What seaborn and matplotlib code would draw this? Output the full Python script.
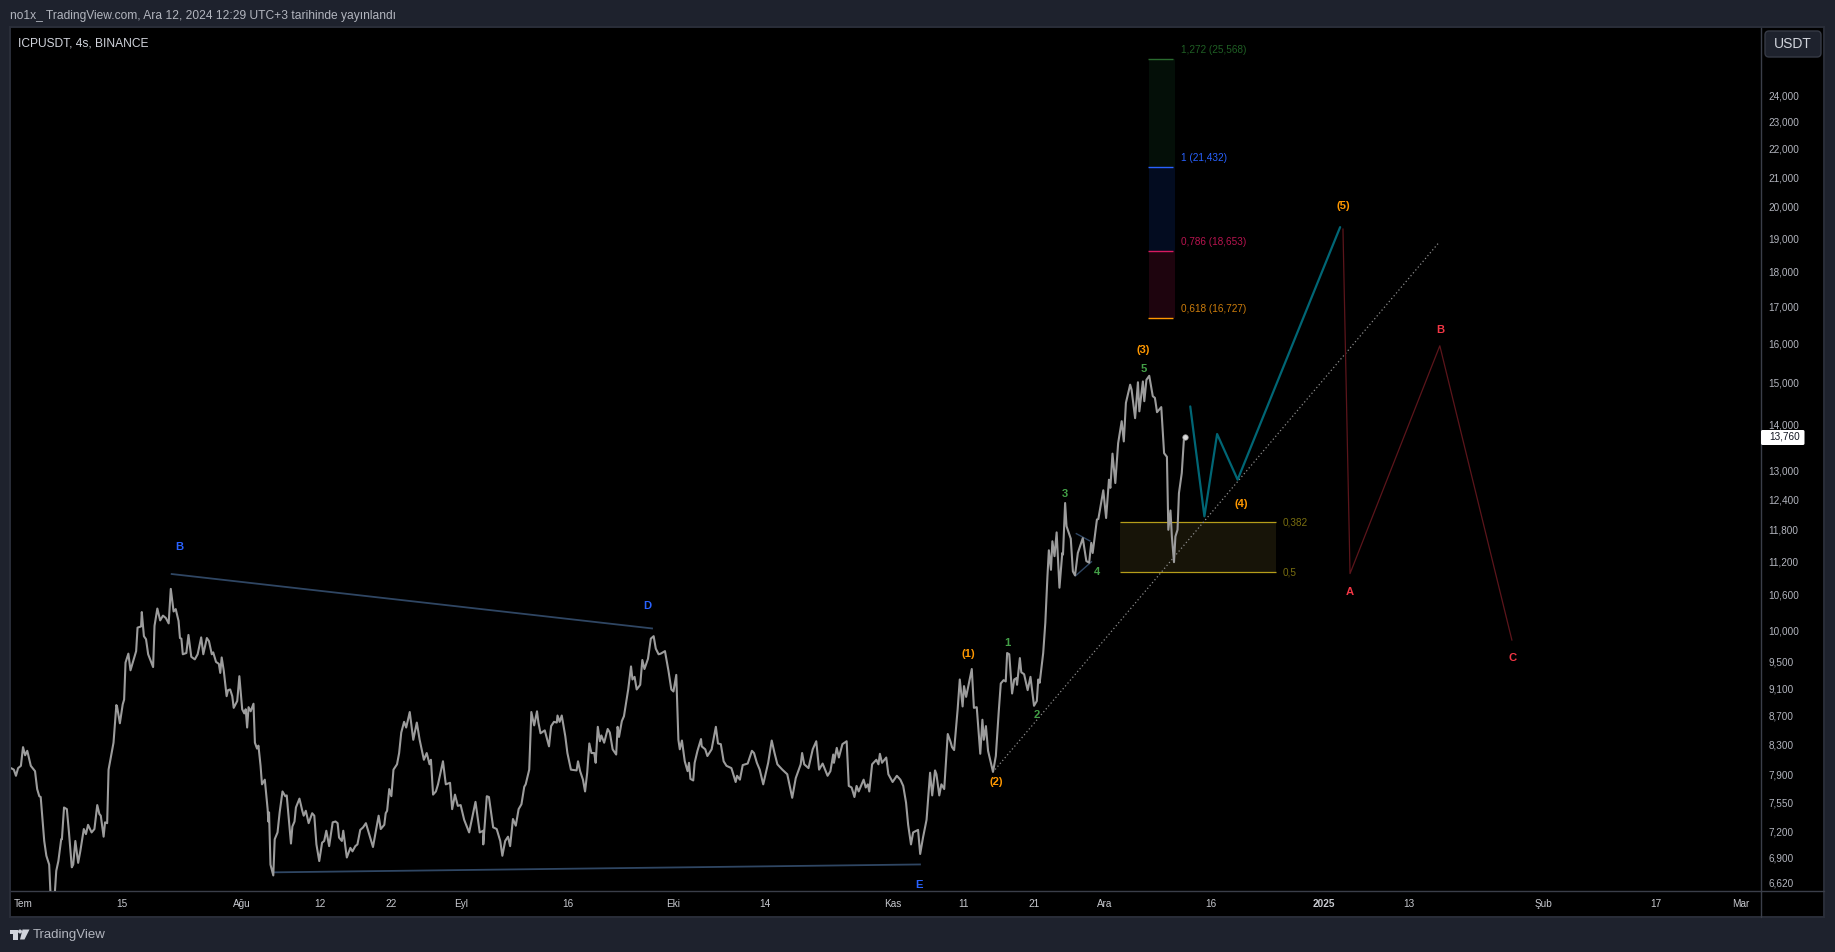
import matplotlib
matplotlib.use("Agg")
import matplotlib.pyplot as plt
from matplotlib.patches import FancyBboxPatch, Polygon, Rectangle, Circle
from matplotlib.transforms import IdentityTransform, ScaledTranslation
import pandas as pd
import seaborn as sns

# ICPUSDT 4h closes: days since 1 July 2024, price in thousands as the chart's scale shows it
days = [
    -1.7,-1.3,-1.0,-0.7,-0.3,0.0,0.3,0.6,1.1,1.7,2.0,2.3,2.5,3.0,3.3,3.7,3.9,4.1,4.5,4.7,5.0,5.4,5.5,5.8,6.2,6.5,6.9,7.1,7.4,7.8,
    8.1,8.6,8.9,9.2,9.7,10.1,10.5,10.8,11.0,11.4,11.6,11.9,12.1,12.8,13.2,13.3,13.7,14.1,14.3,14.5,14.9,15.2,16.0,16.2,16.7,16.8,17.1,17.4,17.7,18.4,
    18.6,19.0,19.4,19.8,20.2,20.6,20.9,21.3,21.6,22.0,22.2,22.4,22.6,23.1,23.4,23.8,24.3,24.7,25.2,25.5,26.0,26.3,26.7,26.9,27.3,27.7,27.9,28.1,28.4,28.8,
    29.0,29.3,29.6,29.8,30.3,30.6,31.0,31.3,31.5,31.7,31.9,32.2,32.6,32.8,33.1,33.3,33.6,33.8,34.2,34.6,34.7,34.8,35.0,35.4,35.6,36.0,36.3,36.7,37.1,37.3,
    37.9,38.1,38.4,38.6,39.1,39.5,39.7,40.0,40.4,40.9,41.2,41.5,41.9,42.3,42.6,42.9,43.3,43.8,44.2,44.5,44.7,45.1,45.3,45.8,46.3,46.6,47.0,47.3,47.7,48.1,
    48.5,49.5,50.3,50.6,51.1,51.3,51.5,51.8,52.1,52.4,52.9,53.2,53.5,53.9,54.2,54.7,55.2,55.7,56.1,56.7,57.1,57.5,57.7,58.0,58.4,58.7,59.4,59.8,60.4,60.7,
    61.1,61.5,61.9,62.4,63.1,64.0,64.6,65.1,65.1,65.6,65.9,66.5,67.0,67.5,67.8,68.2,68.6,68.9,69.3,69.7,70.1,70.5,70.9,71.1,71.6,71.9,72.3,72.7,72.9,73.2,
    73.8,74.4,74.7,75.1,75.5,75.6,75.9,76.2,76.7,77.0,77.5,78.3,78.5,78.8,79.2,79.5,79.8,80.1,80.4,80.8,81.0,81.3,81.6,81.8,82.2,82.7,83.0,83.4,83.9,84.1,
    84.3,84.7,85.0,85.6,86.0,86.2,86.5,86.8,87.3,87.6,87.9,88.4,88.8,89.2,89.5,89.9,90.2,90.8,91.3,91.7,92.0,92.4,92.7,92.9,93.2,93.6,94.0,94.2,94.4,94.8,
    95.0,95.4,95.9,96.0,96.5,96.8,97.4,98.0,98.3,98.7,99.1,99.5,100.2,100.8,101.0,101.4,101.8,102.5,103.1,103.4,103.8,104.2,104.7,105.4,105.9,106.3,106.7,107.4,108.1,108.8,
    109.3,110.0,110.2,110.5,111.1,111.7,112.2,112.6,113.1,113.8,114.2,114.6,114.7,115.1,115.4,115.9,116.5,116.8,117.2,117.6,117.9,118.2,118.9,119.2,119.5,119.7,120.1,120.7,121.0,121.2,
    121.5,122.1,122.4,123.0,123.6,124.1,124.5,124.9,125.2,125.6,125.9,126.6,126.9,127.3,127.8,128.3,128.6,129.0,129.2,129.6,129.9,130.3,130.8,131.2,131.4,131.7,132.2,132.5,132.9,133.1,
    133.4,134.2,134.5,134.9,135.4,135.7,135.9,136.2,136.5,137.2,137.6,138.0,138.3,138.7,139.0,139.2,139.5,139.9,140.2,140.5,140.6,141.0,141.2,141.6,142.1,142.5,143.0,143.4,143.6,143.8,
    144.3,144.6,144.9,145.1,145.4,145.6,145.9,146.2,146.6,147.0,147.1,147.4,147.6,148.2,148.5,148.8,149.2,149.9,150.4,150.8,151.1,151.3,151.9,152.1,152.8,153.2,153.6,153.8,154.1,154.5,
    154.9,155.4,155.7,156.0,156.6,156.8,157.3,157.7,157.9,158.4,158.6,158.9,159.3,159.8,160.1,160.4,161.0,161.4,161.8,162.0,162.3,162.5,162.8,163.0,163.3,163.5,163.9,164.2,164.4,
]
closes = [
    8.01,7.99,7.91,8.01,8.04,8.29,8.18,8.24,8.04,7.97,7.74,7.65,7.64,7.11,6.94,6.84,6.50,6.39,6.53,6.77,6.88,7.13,7.13,7.51,7.49,7.21,6.81,6.84,7.11,6.86,
    6.99,7.25,7.19,7.30,7.21,7.25,7.54,7.43,7.41,7.16,7.33,7.32,7.99,8.35,8.88,8.86,8.62,8.89,8.96,9.52,9.66,9.40,9.70,10.08,10.10,10.34,9.94,9.89,9.65,9.45,
    10.11,10.40,10.20,10.28,10.24,10.15,10.74,10.35,10.39,10.19,9.91,9.90,9.65,9.67,9.96,9.61,9.57,9.65,9.92,9.65,9.91,9.86,9.65,9.68,9.53,9.50,9.36,9.60,9.39,9.01,
    9.10,9.11,9.01,8.84,8.94,9.31,8.82,8.76,8.82,8.56,8.85,8.79,8.90,8.35,8.27,8.31,8.04,7.80,7.86,7.49,7.34,7.45,6.84,6.72,7.13,7.21,7.45,7.71,7.65,7.66,
    7.08,7.28,7.34,7.51,7.62,7.47,7.41,7.47,7.32,7.44,7.41,7.07,6.88,7.09,7.11,7.23,7.05,7.33,7.34,7.32,7.15,7.11,7.23,6.92,7.03,6.99,7.05,7.07,7.24,7.27,
    7.32,7.04,7.41,7.25,7.30,7.44,7.47,7.74,7.65,7.99,8.06,8.21,8.49,8.64,8.56,8.78,8.39,8.63,8.39,8.12,8.21,8.06,8.12,7.67,7.71,7.80,8.10,7.80,7.82,7.49,
    7.67,7.53,7.54,7.36,7.21,7.58,7.21,7.23,7.07,7.65,7.64,7.27,7.25,7.11,6.94,7.11,7.16,7.05,7.37,7.29,7.49,7.55,7.77,7.80,7.99,8.78,8.59,8.79,8.63,8.48,
    8.52,8.30,8.58,8.64,8.63,8.73,8.64,8.73,8.44,8.21,7.99,7.98,8.10,7.97,7.86,7.71,7.95,8.34,8.21,8.21,8.08,8.57,8.37,8.45,8.35,8.54,8.49,8.26,8.19,8.57,
    8.43,8.65,8.72,9.11,9.46,9.26,9.30,9.11,9.18,9.56,9.42,9.58,9.90,9.94,9.74,9.65,9.66,9.70,9.39,9.11,9.08,9.33,8.39,8.26,8.38,8.10,7.97,8.08,7.87,7.85,
    8.08,8.24,8.40,8.30,8.26,8.17,8.26,8.57,8.34,8.33,8.10,8.04,8.01,7.83,7.91,7.86,8.05,8.07,8.24,8.21,8.08,7.99,7.80,8.08,8.38,8.21,8.06,7.99,7.93,7.63,
    7.88,8.06,8.21,8.06,8.01,8.26,8.37,7.99,8.07,7.91,7.97,8.19,8.08,8.28,8.15,8.33,8.37,7.78,7.76,7.64,7.78,7.71,7.86,7.76,7.80,7.71,8.06,8.12,8.06,8.20,
    8.08,8.15,7.93,7.83,7.91,7.86,7.78,7.57,7.30,7.07,7.21,7.24,6.96,7.15,7.36,7.95,7.66,7.98,7.93,7.66,7.80,7.74,8.47,8.36,8.29,8.25,8.82,9.26,8.86,9.16,
    9.00,9.42,8.84,8.85,8.20,8.67,8.39,8.58,8.24,7.96,8.17,8.77,9.20,9.25,9.23,9.67,9.65,9.05,9.26,9.28,9.18,9.59,9.37,9.34,9.10,9.30,8.87,8.94,9.26,9.21,
    9.67,10.16,10.96,11.44,11.08,11.61,11.33,11.78,10.76,11.39,11.36,12.36,11.90,11.66,11.05,10.98,11.39,11.67,11.24,11.21,11.58,11.39,12.03,12.04,12.62,12.06,12.84,12.67,13.40,12.77,
    13.63,14.13,13.67,14.56,15.00,14.88,14.20,15.06,14.36,15.08,14.60,15.12,15.22,14.72,14.68,14.34,14.46,13.41,13.33,11.83,12.21,11.70,11.22,11.70,11.83,12.56,12.98,13.71,13.76,
]
last_price_label = "13,760"

# Trendlines and projected waves
upper_days, upper_prices = [20.9, 89.1], [11.006, 10.065]
lower_days, lower_prices = [35.4, 127.0], [6.754, 6.842]
tri_a_days, tri_a_prices = [148.9, 151.0], [11.762, 11.609]
tri_b_days, tri_b_prices = [148.8, 151.2], [10.963, 11.235]
impulse_days = [165.1, 167.1, 168.9, 171.8, 186.3]
impulse_prices = [14.476, 12.093, 13.837, 12.841, 19.411]
correction_days = [186.7, 187.7, 200.4, 210.6]
correction_prices = [19.357, 11.012, 15.986, 9.874]
support_days, support_prices = [137.5, 200.2], [7.992, 18.909]

# Fibonacci extension levels
fib_ratios = ["1,272", "1", "0,786", "0,618"]
fib_levels = [25.568, 21.432, 18.653, 16.727]
fib_line_colors = ["#2a6b2f", "#2962ff", "#d81b60", "#ff9800"]
fib_text_colors = ["#1f5f24", "#2962ff", "#b8144f", "#cc7d0c"]
fib_fill_colors = ["#040f08", "#030c20", "#1e040e"]
zone_labels = ["0,382", "0,5"]
zone_levels = [11.983, 11.042]

# Wave labels: text, day, price
blue_waves = [("B", 22.1, 11.518), ("D", 88.3, 10.467), ("E", 126.8, 6.633)]
orange_waves = [("(1)", 133.7, 9.677), ("(2)", 137.7, 7.841), ("(3)", 158.5, 15.900),
                ("(4)", 172.3, 12.361), ("(5)", 186.7, 20.122)]
green_waves = [("1", 139.2, 9.848), ("2", 143.4, 8.759), ("3", 147.3, 12.571),
               ("4", 151.9, 11.066), ("5", 158.5, 15.414)]
red_waves = [("A", 187.7, 10.704), ("B", 200.4, 16.437), ("C", 210.7, 9.614)]

# Axis labelling
price_ticks = [24, 23, 22, 21, 20, 19, 18, 17, 16, 15, 14, 13, 12.4, 11.8, 11.2, 10.6, 10,
               9.5, 9.1, 8.7, 8.3, 7.9, 7.55, 7.2, 6.9, 6.62]
time_ticks = [0, 14, 31, 42, 52, 62, 77, 92, 105, 123, 133, 143, 153, 168, 184, 196, 215, 231, 243]
time_labels = ["Tem", "15", "Ağu", "12", "22", "Eyl", "16", "Eki", "14", "Kas", "11", "21",
               "Ara", "16", "2025", "13", "Şub", "17", "Mar"]

BG = "#1e222d"
BORDER = "#2a2e39"
AXIS_LINE = "#3a3e49"
TICK_TEXT = "#b2b5be"
W, H = 1835, 952

sns.set_theme(style="dark")
plt.rcParams["font.family"] = ["Liberation Sans", "DejaVu Sans"]

fig = plt.figure(figsize=(W / 100, H / 100), dpi=100, facecolor=BG)


def fig_xy(x, y):
    return x / W, 1 - y / H


# Black chart panel including the price and time scales
fig.add_artist(Rectangle((10, H - 917), 1814, 890, transform=IdentityTransform(),
                         facecolor="black", edgecolor=BORDER, linewidth=1.4, zorder=-1))

ax = fig.add_axes([11 / W, 1 - 891 / H, 1750 / W, 863 / H], facecolor="black")
ax.patch.set_alpha(0)
ax.set_yscale("log")

# Fibonacci block above the price
for lo, hi, col in zip(fib_levels[1:], fib_levels[:-1], fib_fill_colors):
    ax.fill_between([159.2, 162.9], lo, hi, color=col, linewidth=0, zorder=1)
ax.hlines(fib_levels, 159.1, 162.7, colors=fib_line_colors, linewidth=1.0, zorder=2)
for ratio, level, col in zip(fib_ratios, fib_levels, fib_text_colors):
    ax.annotate(f"{ratio} ({level:.3f})".replace(".", ","), (162.7, level), xytext=(5.8, 6.5),
                textcoords="offset points", color=col, fontsize=7.2, va="center", ha="left")

# Retracement zone
ax.fill_between([155.2, 177.2], zone_levels[1], zone_levels[0], color="#171408", linewidth=0, zorder=1)
ax.hlines(zone_levels, 155.2, 177.2, colors="#b59d1a", linewidth=0.9, zorder=2)
for lab, level in zip(zone_labels, zone_levels):
    ax.annotate(lab, (177.2, level), xytext=(5, -0.6), textcoords="offset points",
                color="#7a6f10", fontsize=7.2, va="center", ha="left")

# Triangle trendlines
for xs, ys, lw in [(upper_days, upper_prices, 1.3), (lower_days, lower_prices, 1.3),
                   (tri_a_days, tri_a_prices, 1.0), (tri_b_days, tri_b_prices, 1.0)]:
    ax.plot(xs, ys, color="#2f4663", linewidth=lw, solid_capstyle="butt", zorder=3)

# Rising support and projected waves
ax.plot(support_days, support_prices, color="#8c8c8c", linewidth=0.9,
        linestyle=(0, (1, 2)), zorder=3)
ax.plot(impulse_days, impulse_prices, color="#006675", linewidth=1.6, zorder=3)
ax.plot(correction_days, correction_prices, color="#5c151b", linewidth=0.9, zorder=3)

# Price line
prices = pd.DataFrame({"day": days, "close": closes})
sns.lineplot(data=prices, x="day", y="close", ax=ax, color="#9c9c9c", linewidth=1.5,
             estimator=None, sort=False, legend=False, zorder=4)
ax.plot([days[-1]], [closes[-1]], marker="o", ms=4, mfc="#d8d8d8", mec="#8c8c8c",
        mew=0.5, linestyle="none", zorder=5)

# Elliott wave labels
for group, col in [(blue_waves, "#2962ff"), (orange_waves, "#ff9800"),
                   (green_waves, "#43a047"), (red_waves, "#f23645")]:
    for txt, d, p in group:
        ax.annotate(txt, (d, p), xytext=(0, -0.85), textcoords="offset points", color=col,
                    fontsize=8.1, fontweight="bold", ha="center", va="center", zorder=6)

# Scales
ax.set_xlim(-1.7, 245.83)
ax.set_ylim(6.551, 26.888)
ax.yaxis.tick_right()
ax.set_yticks(price_ticks)
ax.set_yticklabels([f"{t:.3f}".replace(".", ",") for t in price_ticks])
ax.minorticks_off()
ax.set_xticks(time_ticks)
ax.set_xticklabels(time_labels)
ax.tick_params(axis="y", length=0, pad=5.5, labelsize=7.2, labelcolor=TICK_TEXT)
ax.tick_params(axis="x", length=0, pad=6, labelsize=7.2, labelcolor="#c8cad0")
# Price labels sit slightly above their tick positions
nudge = ScaledTranslation(0, 1.9 / 100, fig.dpi_scale_trans)
for lab in ax.get_yticklabels():
    lab.set_transform(lab.get_transform() + nudge)
for lab in ax.get_xticklabels():
    if lab.get_text() == "2025":
        lab.set_fontweight("bold")
ax.set_xlabel("")
ax.set_ylabel("")
ax.grid(False)
for side in ["top", "left"]:
    ax.spines[side].set_visible(False)
for side in ["bottom", "right"]:
    ax.spines[side].set_color(AXIS_LINE)
    ax.spines[side].set_linewidth(1.0)

# Divider lines carried through the scale corners
fig.add_artist(plt.Line2D([1761 / W, 1761 / W], [1 - 917 / H, 1 - 891 / H], color=AXIS_LINE, lw=1.0))
fig.add_artist(plt.Line2D([1761 / W, 1824 / W], [1 - 891 / H, 1 - 891 / H], color=AXIS_LINE, lw=1.0))

# Last price tag
fig.add_artist(FancyBboxPatch((1761, H - 445), 43.5, 15, boxstyle="round,pad=0,rounding_size=1.5",
                              transform=IdentityTransform(), facecolor="white", edgecolor="none"))
fig.text(*fig_xy(1769, 437), last_price_label, color="#131722", fontsize=7.2, va="center", ha="left")

# Currency button
fig.add_artist(FancyBboxPatch((1765, H - 57), 56, 26, boxstyle="round,pad=0,rounding_size=4",
                              transform=IdentityTransform(), facecolor="#1e222d", edgecolor="#363a45", linewidth=1))
fig.text(*fig_xy(1792.5, 44), "USDT", color="#d1d4dc", fontsize=10, va="center", ha="center")

# Header, symbol and footer
fig.text(*fig_xy(10, 15.5), "no1x_ TradingView.com, Ara 12, 2024 12:29 UTC+3 tarihinde yayınlandı",
         color=TICK_TEXT, fontsize=8.63, va="center", ha="left")
fig.text(*fig_xy(18, 43), "ICPUSDT, 4s, BINANCE", color="#d1d4dc", fontsize=8.65, va="center", ha="left")
fig.text(*fig_xy(33, 935), "TradingView", color="#b2b5be", fontsize=9.5, va="center", ha="left")
for poly in [[(10, 929.5), (17.5, 929.5), (17.5, 939.5), (13, 939.5), (13, 933.5), (10, 933.5)],
             [(22.5, 929.5), (29.5, 929.5), (24.5, 939.5), (20, 939.5)]]:
    fig.add_artist(Polygon([(x, H - y) for x, y in poly], closed=True, transform=IdentityTransform(),
                           facecolor="#d1d4dc", edgecolor="none"))
fig.add_artist(Circle((20, H - 931.5), 2, transform=IdentityTransform(), facecolor="#d1d4dc", edgecolor="none"))

fig.savefig("out.png", dpi=100, facecolor=BG)
